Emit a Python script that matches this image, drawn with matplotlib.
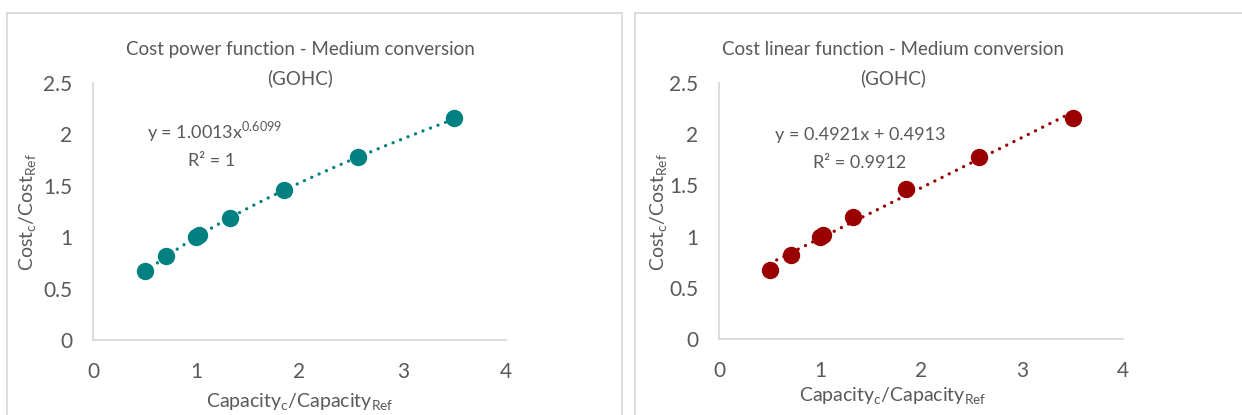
import numpy as np
import matplotlib
matplotlib.use("Agg")
import matplotlib.pyplot as plt
from matplotlib.patches import Rectangle

plt.rcParams['font.family'] = ['Lato', 'DejaVu Sans']
plt.rcParams['mathtext.fontset'] = 'custom'
plt.rcParams['mathtext.rm'] = 'Lato'

# Relative capacity vs relative cost
capacity_ratio = [0.5, 0.71, 1.0, 1.03, 1.33, 1.85, 2.57, 3.5]
cost_ratio = [0.67, 0.82, 1.0, 1.02, 1.19, 1.46, 1.78, 2.16]

# Fitted trendline coefficients
power_a, power_b = 1.0013, 0.6099
power_r2 = "1"
lin_slope, lin_icpt = 0.4921, 0.4913
lin_r2 = "0.9912"

x_ticks = [0, 1, 2, 3, 4]
y_ticks = [0, 0.5, 1, 1.5, 2, 2.5]
y_tick_labels = ["0", "0.5", "1", "1.5", "2", "2.5"]

TEXT = "#595959"
GRID = "#D9D9D9"
TEAL = "#008080"
DARKRED = "#9B0000"

W, H = 1242, 415
fig = plt.figure(figsize=(W / 100, H / 100), dpi=100)


def px_axes(x0, y0, x1, y1):
    return fig.add_axes([x0 / W, 1 - y1 / H, (x1 - x0) / W, (y1 - y0) / H])


# Chart-area frames
for (bx0, by0, bx1, by1) in [(7, 13, 622, 430), (635, 13, 1260, 430)]:
    fig.add_artist(Rectangle((bx0 / W, 1 - by1 / H), (bx1 - bx0) / W, (by1 - by0) / H,
                             transform=fig.transFigure, fill=False,
                             edgecolor=GRID, linewidth=1.3))

xlabel = r"Capacity$_{\mathrm{c}}$/Capacity$_{\mathrm{Ref}}$"
ylabel = r"Cost$_{\mathrm{c}}$/Cost$_{\mathrm{Ref}}$"

DOTS = (0, (0.01, 2.4))


def style(ax, title, title_xy, xlab_y, ylab_x):
    ax.set_xlim(0, 4)
    ax.set_ylim(0, 2.5)
    ax.set_xticks(x_ticks)
    ax.set_yticks(y_ticks)
    ax.set_yticklabels(y_tick_labels)
    for s in ["top", "right"]:
        ax.spines[s].set_visible(False)
    for s in ["left", "bottom"]:
        ax.spines[s].set_color(GRID)
        ax.spines[s].set_linewidth(1.3)
    ax.tick_params(length=0, labelsize=15, colors=TEXT)
    ax.tick_params(axis="y", pad=15)
    ax.tick_params(axis="x", pad=16)
    fig.text(title_xy[0] / W, 1 - title_xy[1] / H, title, ha="center", va="center",
             fontsize=13.5, color=TEXT, linespacing=1.7)
    fig.text(title_xy[0] / W, 1 - xlab_y / H, xlabel, ha="center", va="center",
             fontsize=14, color=TEXT)
    fig.text(ylab_x / W, 1 - 212 / H, ylabel, ha="center", va="center",
             fontsize=14, color=TEXT, rotation=90)


xs = np.linspace(min(capacity_ratio), max(capacity_ratio), 200)

# Power fit panel
ax1 = px_axes(93, 83, 506, 340)
style(ax1, "Cost power function - Medium conversion\n(GOHC)", (300, 64), 402, 28)
ax1.plot(xs, power_a * xs ** power_b, color=TEAL, lw=2.4,
         linestyle=DOTS, dash_capstyle="round", zorder=2)
ax1.plot(capacity_ratio, cost_ratio, "o", color=TEAL, ms=11.5, zorder=3)
fig.text(147 / W, 1 - 132 / H, f"y = {power_a:.4f}x$^{{{power_b:.4f}}}$", ha="left",
         va="center", fontsize=13, color=TEXT)
fig.text(212 / W, 1 - 161 / H, f"R² = {power_r2}", ha="center", va="center",
         fontsize=13, color=TEXT)

# Linear fit panel
ax2 = px_axes(719, 83, 1123, 339)
style(ax2, "Cost linear function - Medium conversion\n(GOHC)", (893, 64), 396, 659)
ax2.plot(xs, lin_slope * xs + lin_icpt, color=DARKRED, lw=2.4,
         linestyle=DOTS, dash_capstyle="round", zorder=2)
ax2.plot(capacity_ratio, cost_ratio, "o", color=DARKRED, ms=11.5, zorder=3)
fig.text(860 / W, 1 - 135 / H, f"y = {lin_slope:.4f}x + {lin_icpt:.4f}", ha="center",
         va="center", fontsize=13, color=TEXT)
fig.text(860 / W, 1 - 163 / H, f"R² = {lin_r2}", ha="center", va="center",
         fontsize=13, color=TEXT)

fig.savefig("out.png", dpi=100, facecolor="white")
